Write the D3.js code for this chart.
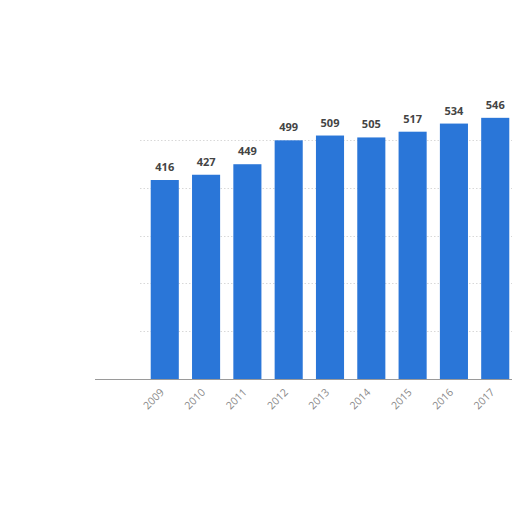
<!DOCTYPE html>
<html><head><meta charset="utf-8">
<script src="https://cdn.jsdelivr.net/npm/d3@7"></script>
<style>html,body{margin:0;padding:0;background:#fff;}svg{display:block;}</style>
</head><body>
<script>
const years = ["2009","2010","2011","2012","2013","2014","2015","2016","2017"];
const values = [416,427,449,499,509,505,517,534,546];
const gridTicks = [100,200,300,400,500];

const W = 512, H = 512;
const svg = d3.select("body").append("svg").attr("width", W).attr("height", H);

const x = d3.scaleBand().domain(years).range([137.5, 522.5]).padding(0.32);
const y = d3.scaleLinear().domain([0, 600]).range([379, 92]);

// gridlines
svg.append("g").selectAll("line").data(gridTicks).join("line")
  .attr("x1", 140).attr("x2", W)
  .attr("y1", d => Math.round(y(d)) + 0.5).attr("y2", d => Math.round(y(d)) + 0.5)
  .attr("stroke", "#d8d8d8").attr("stroke-width", 1).attr("stroke-dasharray", "1.5,2");

// bars
svg.append("g").selectAll("rect").data(values).join("rect")
  .attr("x", (d, i) => x(years[i]))
  .attr("y", d => y(d))
  .attr("width", x.bandwidth())
  .attr("height", d => y(0) - y(d))
  .attr("fill", "#2a76d8");

// baseline
svg.append("line").attr("x1", 95).attr("x2", W)
  .attr("y1", y(0) + 0.5).attr("y2", y(0) + 0.5)
  .attr("stroke", "#9a9a9a").attr("stroke-width", 1.2);

// value labels
svg.append("g").selectAll("text").data(values).join("text")
  .attr("x", (d, i) => x(years[i]) + x.bandwidth() / 2)
  .attr("y", d => y(d) - 9)
  .attr("text-anchor", "middle")
  .attr("font-family", "Open Sans, Lato, sans-serif")
  .attr("font-weight", "bold")
  .attr("font-size", 11)
  .attr("fill", "#444")
  .text(d => d);

// x axis labels
svg.append("g").selectAll("text").data(years).join("text")
  .attr("transform", d => `translate(${x(d) + x.bandwidth() / 2},${y(0) + 14}) rotate(-45)`)
  .attr("text-anchor", "end")
  .attr("font-family", "Open Sans, Lato, sans-serif")
  .attr("font-size", 10.5)
  .attr("fill", "#8a8a8a")
  .text(d => d);
</script>
</body></html>
